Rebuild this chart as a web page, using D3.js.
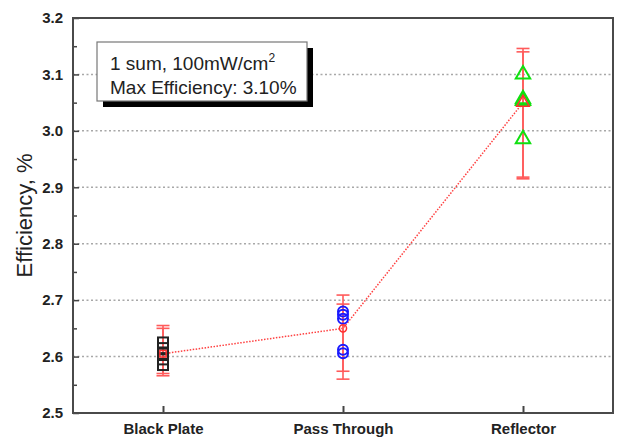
<!DOCTYPE html>
<html>
<head>
<meta charset="utf-8">
<script src="https://cdn.jsdelivr.net/npm/d3@7"></script>
<style>
  html, body { margin: 0; padding: 0; background: #fff; }
  svg { display: block; font-family: "Liberation Sans", Arial, sans-serif; }
</style>
</head>
<body>
<svg id="chart" width="620" height="437"></svg>
<script>
// Collector configurations on the x axis
const categories = ["Black Plate", "Pass Through", "Reflector"];

// Individual efficiency measurements (%) per configuration
const blackPlate  = [2.625, 2.615, 2.605, 2.595, 2.585];
const passThrough = [2.680, 2.674, 2.667, 2.612, 2.606];
const reflector   = [3.102, 3.058, 3.055, 2.987];

// Mean efficiency per configuration (joined by the dotted line)
const means = [2.605, 2.650, 3.050];

// Error bar limits (two overlaid bars per configuration)
const errLowA  = [2.566, 2.560, 2.915];
const errHighA = [2.655, 2.709, 3.146];
const errLowB  = [2.570, 2.574, 2.918];
const errHighB = [2.650, 2.693, 3.140];

// Axis ticks
const yMajorTicks = [2.5, 2.6, 2.7, 2.8, 2.9, 3.0, 3.1, 3.2];
const yMinorTicks = [2.55, 2.65, 2.75, 2.85, 2.95, 3.05, 3.15];
const gridValues  = [2.6, 2.7, 2.8, 2.9, 3.0, 3.1];

const legendLines = ["1 sum, 100mW/cm", "Max Efficiency: 3.10%"];

const svg = d3.select("#chart");
const plot = { left: 73, top: 18, right: 613, bottom: 413 };

const x = d3.scalePoint().domain(categories).range([plot.left, plot.right]).padding(0.5);
const y = d3.scaleLinear().domain([2.5, 3.2]).range([plot.bottom, plot.top]);

// Dotted horizontal grid
svg.append("g").selectAll("line").data(gridValues).join("line")
  .attr("x1", plot.left).attr("x2", plot.right)
  .attr("y1", d => y(d)).attr("y2", d => y(d))
  .attr("stroke", "#a8a8a8").attr("stroke-width", 1.5)
  .attr("stroke-dasharray", "2,2.5");

// Left axis: major ticks with labels, minor ticks without
const yAxis = svg.append("g").attr("transform", `translate(${plot.left},0)`)
  .call(d3.axisLeft(y).tickValues(yMajorTicks).tickFormat(d3.format(".1f"))
        .tickSize(-6).tickPadding(10));
yAxis.select(".domain").remove();
yAxis.selectAll(".tick line").attr("stroke", "#444").attr("stroke-width", 1.5);
yAxis.selectAll("text").attr("font-size", 15).attr("font-weight", "bold").attr("fill", "#222");

const yMinor = svg.append("g").attr("transform", `translate(${plot.left},0)`)
  .call(d3.axisLeft(y).tickValues(yMinorTicks).tickFormat("").tickSize(-4));
yMinor.select(".domain").remove();
yMinor.selectAll(".tick line").attr("stroke", "#444").attr("stroke-width", 1.5);

// Bottom axis with category labels
const xAxis = svg.append("g").attr("transform", `translate(0,${plot.bottom})`)
  .call(d3.axisBottom(x).tickSize(-7).tickPadding(10));
xAxis.select(".domain").remove();
xAxis.selectAll(".tick line").attr("stroke", "#444").attr("stroke-width", 2);
xAxis.selectAll("text").attr("font-size", 15).attr("font-weight", "bold").attr("fill", "#222");

// Frame
svg.append("rect")
  .attr("x", plot.left).attr("y", plot.top)
  .attr("width", plot.right - plot.left).attr("height", plot.bottom - plot.top)
  .attr("fill", "none").attr("stroke", "#4a4a4a").attr("stroke-width", 2);

// Y axis title
svg.append("text")
  .attr("transform", `translate(32,${(plot.top + plot.bottom) / 2}) rotate(-90)`)
  .attr("text-anchor", "middle")
  .attr("font-size", 22).attr("fill", "#222")
  .text("Efficiency, %");

// Dotted line joining the means
svg.append("path")
  .datum(means)
  .attr("d", d3.line().x((d, i) => x(categories[i])).y(d => y(d)))
  .attr("fill", "none").attr("stroke", "#ff4040").attr("stroke-width", 1.5)
  .attr("stroke-dasharray", "1.5,1.5");

// Error bars
const errColor = "#ff5a5a";
const capHalf = 6.5;
function errorBars(lows, highs) {
  const g = svg.append("g").attr("stroke", errColor).attr("stroke-width", 1.6);
  categories.forEach((c, i) => {
    const cx = x(c);
    g.append("line").attr("x1", cx).attr("x2", cx).attr("y1", y(lows[i])).attr("y2", y(highs[i]));
    [lows[i], highs[i]].forEach(v => {
      g.append("line").attr("x1", cx - capHalf).attr("x2", cx + capHalf)
        .attr("y1", y(v)).attr("y2", y(v));
    });
  });
}
errorBars(errLowA, errHighA);
errorBars(errLowB, errHighB);

// Individual measurements
const cx0 = x(categories[0]), cx1 = x(categories[1]), cx2 = x(categories[2]);

svg.append("g").selectAll("rect").data(blackPlate).join("rect")
  .attr("x", cx0 - 5).attr("y", d => y(d) - 5)
  .attr("width", 10).attr("height", 10)
  .attr("fill", "none").attr("stroke", "#222").attr("stroke-width", 2);

svg.append("g").selectAll("circle").data(passThrough).join("circle")
  .attr("cx", cx1).attr("cy", d => y(d)).attr("r", 5)
  .attr("fill", "none").attr("stroke", "#1a1aff").attr("stroke-width", 2);

const tri = d3.symbol().type(d3.symbolTriangle).size(90);
svg.append("g").selectAll("path").data(reflector).join("path")
  .attr("transform", d => `translate(${cx2},${y(d) + 1})`)
  .attr("d", tri)
  .attr("fill", "none").attr("stroke", "#10e010").attr("stroke-width", 2);

// Mean markers
const meanShapes = [d3.symbolSquare, d3.symbolCircle, d3.symbolTriangle];
svg.append("g").selectAll("path").data(means).join("path")
  .attr("transform", (d, i) => `translate(${x(categories[i])},${y(d)})`)
  .attr("d", (d, i) => d3.symbol().type(meanShapes[i]).size(i === 2 ? 70 : 40)())
  .attr("fill", "none").attr("stroke", "#ff3030").attr("stroke-width", 1.5);

// Legend box with drop shadow
const lg = { x: 97, y: 42, w: 210, h: 59 };
svg.append("rect").attr("x", lg.x + 6).attr("y", lg.y + 6)
  .attr("width", lg.w).attr("height", lg.h).attr("fill", "#000");
svg.append("rect").attr("x", lg.x).attr("y", lg.y)
  .attr("width", lg.w).attr("height", lg.h)
  .attr("fill", "#fff").attr("stroke", "#777").attr("stroke-width", 1.2);

const t1 = svg.append("text").attr("x", lg.x + 13).attr("y", lg.y + 28)
  .attr("font-size", 19).attr("fill", "#222").text(legendLines[0]);
t1.append("tspan").attr("dy", -8).attr("font-size", 12).text("2");
svg.append("text").attr("x", lg.x + 13).attr("y", lg.y + 52)
  .attr("font-size", 19).attr("fill", "#222").text(legendLines[1]);
</script>
</body>
</html>
